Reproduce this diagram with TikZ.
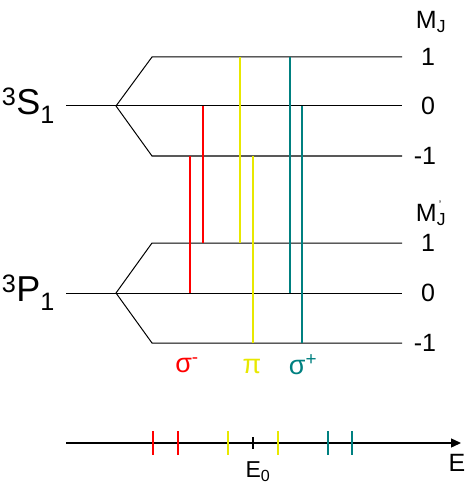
\documentclass[tikz,border=0pt]{standalone}
\usepackage{fontspec}
\setmainfont{Liberation Sans}
\usetikzlibrary{arrows.meta}
\definecolor{sigm}{RGB}{255,0,0}
\definecolor{piy}{RGB}{232,232,0}
\definecolor{sigp}{RGB}{0,128,128}

\begin{document}
\begin{tikzpicture}[
  x=1pt, y=-1pt,
  font=\fontsize{25}{28}\selectfont,
  lvl/.style   ={line width=1pt},
  mlab/.style  ={anchor=center, inner sep=1pt},
  term/.style  ={font=\fontsize{36}{40}\selectfont, anchor=east, inner sep=1pt},
  trans/.style ={line width=1.6pt},
  pol/.style   ={anchor=center, inner sep=1pt, font=\fontsize{27}{30}\selectfont},
  tick/.style  ={line width=1.6pt},
  axis/.style  ={line width=1.4pt, -{Triangle[length=10pt, width=9pt]}},
]
\useasboundingbox (0,0) rectangle (467,489);

% ---------------- upper term 3S1 ------------------------------------------
\node[term] (sterm) at (56, 106) {\textsuperscript{3}S\textsubscript{1}};
\coordinate (sfork) at (116, 106);
\coordinate (sp1l) at (152, 57);
\coordinate (sm1l) at (152, 156);
\coordinate (sp1)  at (402, 57);
\coordinate (s0)   at (402, 106);
\coordinate (sm1)  at (402, 156);

\draw[lvl] (66, 106) -- (sfork);
\draw[lvl] (sfork) -- (sp1l) -- (sp1);
\draw[lvl] (sfork) -- (s0);
\draw[lvl] (sfork) -- (sm1l) -- (sm1);

\node[mlab] (mj)   at (431, 22) {M\textsubscript{J}};
\node[mlab] (ms1)  at (428, 57)  {1};
\node[mlab] (ms0)  at (428, 106) {0};
\node[mlab] (msm1) at (425, 156) {-1};

% ---------------- lower term 3P1 ------------------------------------------
\node[term] (pterm) at (56, 293) {\textsuperscript{3}P\textsubscript{1}};
\coordinate (pfork) at (116, 293);
\coordinate (pp1l) at (152, 243);
\coordinate (pm1l) at (152, 343);
\coordinate (pp1)  at (402, 243);
\coordinate (p0)   at (402, 293);
\coordinate (pm1)  at (402, 343);

\draw[lvl] (66, 293) -- (pfork);
\draw[lvl] (pfork) -- (pp1l) -- (pp1);
\draw[lvl] (pfork) -- (p0);
\draw[lvl] (pfork) -- (pm1l) -- (pm1);

\node[mlab] (mpj)  at (431, 215) {M\textsubscript{J}};
\node[inner sep=0pt, font=\fontsize{11}{11}\selectfont] (prime) at (440, 205) {'};
\node[mlab] (mp1)  at (428, 243) {1};
\node[mlab] (mp0)  at (428, 293) {0};
\node[mlab] (mpm1) at (425, 343) {-1};

% ---------------- transitions ---------------------------------------------
\coordinate (ra) at (190, 0);
\coordinate (rb) at (203, 0);
\coordinate (ya) at (240, 0);
\coordinate (yb) at (253, 0);
\coordinate (ta) at (290, 0);
\coordinate (tb) at (302, 0);

\draw[trans, sigm] (ra |- sm1) -- (ra |- p0);
\draw[trans, sigm] (rb |- s0)  -- (rb |- pp1);
\draw[trans, piy]  (ya |- sp1) -- (ya |- pp1);
\draw[trans, piy]  (yb |- sm1) -- (yb |- pm1);
\draw[trans, sigp] (ta |- sp1) -- (ta |- p0);
\draw[trans, sigp] (tb |- s0)  -- (tb |- pm1);

\node[pol, text=sigm] (lsm) at (187, 365) {σ\textsuperscript{-}};
\node[pol, text=piy]  (lpi) at (252, 366) {π};
\node[pol, text=sigp] (lsp) at (303, 365) {σ\textsuperscript{+}};

% ---------------- energy axis ---------------------------------------------
\coordinate (ax0) at (66, 443);
\coordinate (ax1) at (461, 443);
\draw[axis] (ax0) -- (ax1);

\draw[tick, sigm] (153, 431) -- (153, 455);
\draw[tick, sigm] (178, 431) -- (178, 455);
\draw[tick, piy]  (228, 431) -- (228, 455);
\draw[tick, piy]  (278, 431) -- (278, 455);
\draw[tick, sigp] (328, 431) -- (328, 455);
\draw[tick, sigp] (352, 431) -- (352, 455);
\draw[line width=1.4pt] (253, 437) -- (253, 449);

\node[mlab, font=\fontsize{23}{26}\selectfont] (ezero) at (258, 472) {E\textsubscript{0}};
\node[mlab] (elab)  at (457, 463) {E};

\end{tikzpicture}
\end{document}
